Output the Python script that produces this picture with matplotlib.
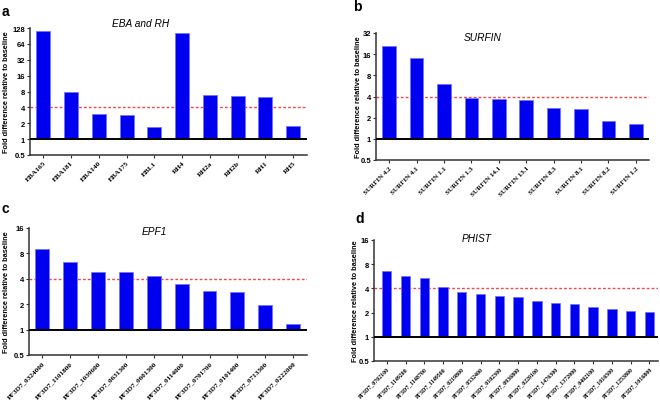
import matplotlib
matplotlib.use("Agg")
import matplotlib.pyplot as plt
from matplotlib.ticker import FixedLocator, FixedFormatter, NullLocator

# data (fold difference relative to baseline)
eba_labels = ["EBA165", "EBA181", "EBA140", "EBA175", "EBL1",
              "RH4", "RH2a", "RH2b", "RH1", "RH5"]
eba_values = [111, 8.0, 3.0, 2.85, 1.73, 104, 6.96, 6.65, 6.2, 1.76]

surfin_labels = ["SURFIN 4.2", "SURFIN 4.1", "SURFIN 1.1", "SURFIN 1.3",
                 "SURFIN 14.1", "SURFIN 13.1", "SURFIN 8.3", "SURFIN 8.1",
                 "SURFIN 8.2", "SURFIN 1.2"]
surfin_values = [21.1, 14.0, 6.1, 3.8, 3.68, 3.6, 2.74, 2.62, 1.79, 1.65]

epf1_labels = ["PF3D7_0324000", "PF3D7_1101800", "PF3D7_1039600",
               "PF3D7_0631300", "PF3D7_0601300", "PF3D7_0114000",
               "PF3D7_0701700", "PF3D7_0101400", "PF3D7_0713300",
               "PF3D7_0222000"]
epf1_values = [9.0, 6.3, 4.87, 4.85, 4.29, 3.44, 2.89, 2.81, 1.95, 1.18]

phist_labels = ["PF3D7_0702100", "PF3D7_1149200", "PF3D7_1148700",
                "PF3D7_1149500", "PF3D7_0219800", "PF3D7_0532400",
                "PF3D7_0102300", "PF3D7_0936800", "PF3D7_0220100",
                "PF3D7_1476300", "PF3D7_1372000", "PF3D7_0402100",
                "PF3D7_1016500", "PF3D7_1253800", "PF3D7_1016800"]
phist_values = [6.57, 5.75, 5.43, 4.13, 3.58, 3.36, 3.23, 3.14, 2.75,
                2.6, 2.53, 2.38, 2.19, 2.07, 2.03]

threshold = 4

W, H = 660, 406
fig = plt.figure(figsize=(W / 100, H / 100), dpi=100)


def px_axes(left, right, top, bottom):
    return fig.add_axes([left / W, 1 - bottom / H, (right - left) / W, (bottom - top) / H])


def draw_panel(rect, labels, values, ymax, title, title_xy, letter, letter_xy,
               ylabel_dx, xlim, xfs):
    ax = px_axes(*rect)
    n = len(values)
    x = list(range(n))
    ax.set_yscale("log", base=2)
    heights = [v - 1 for v in values]
    ax.bar(x, heights, bottom=1, width=0.5, color="#0000f0",
           edgecolor="#7070ff", linewidth=0.5, zorder=2)
    ax.axhline(1, color="black", lw=1.4, zorder=3)
    ax.axhline(threshold, color="#f04848", lw=1.0, ls=(0, (2, 1.5)), zorder=1)
    ax.set_ylim(0.5, ymax)
    ax.set_xlim(*xlim)

    yt = []
    t = 0.5
    while t <= ymax:
        yt.append(t)
        t *= 2
    ax.yaxis.set_major_locator(FixedLocator(yt))
    ax.yaxis.set_major_formatter(FixedFormatter([("%g" % v) for v in yt]))
    ax.yaxis.set_minor_locator(NullLocator())
    ax.set_xticks(x)
    ax.set_xticklabels(labels, rotation=45, ha="right", rotation_mode="anchor",
                       fontsize=xfs, family="Liberation Serif", fontweight="bold")
    for lab in ax.get_yticklabels():
        lab.set_fontsize(5.5)
        lab.set_fontweight("bold")
        lab.set_family("Liberation Sans")
    ax.tick_params(axis="both", length=2, width=0.8, pad=1.5, color="#333333")

    for s in ["top", "right"]:
        ax.spines[s].set_visible(False)
    for s in ["left", "bottom"]:
        ax.spines[s].set_color("#333333")
        ax.spines[s].set_linewidth(1.1)

    ax.set_ylabel("Fold difference relative to baseline", fontsize=5.3,
                  fontweight="bold", family="Liberation Sans")
    width_px = rect[1] - rect[0]
    ax.yaxis.set_label_coords(ylabel_dx / width_px, 0.5)

    ax.text(title_xy[0], title_xy[1], title, transform=ax.transAxes,
            ha="center", va="center", fontsize=7.3, style="italic",
            family="Liberation Sans")
    fig.text(letter_xy[0] / W, 1 - letter_xy[1] / H, letter, fontsize=10,
             fontweight="bold", family="Liberation Sans", ha="left", va="center")
    return ax


draw_panel((30, 307, 29, 156), eba_labels, eba_values, 128, "EBA and RH",
           (0.40, 1.04), "a", (2, 12), -20, (-0.48, 9.5), 5.3)
draw_panel((376, 649, 34, 161), surfin_labels, surfin_values, 32, "SURFIN",
           (0.39, 0.97), "b", (353, 7), -13.5, (-0.48, 9.48), 5.0)
draw_panel((29, 307, 229, 356), epf1_labels, epf1_values, 16, "EPF1",
           (0.45, 0.975), "c", (1, 209), -19, (-0.48, 9.5), 5.2)
draw_panel((374, 658, 241, 362), phist_labels, phist_values, 16, "PHIST",
           (0.36, 1.02), "d", (355, 219), -15, (-0.68, 14.46), 4.2)

fig.savefig("out.png", dpi=100)
